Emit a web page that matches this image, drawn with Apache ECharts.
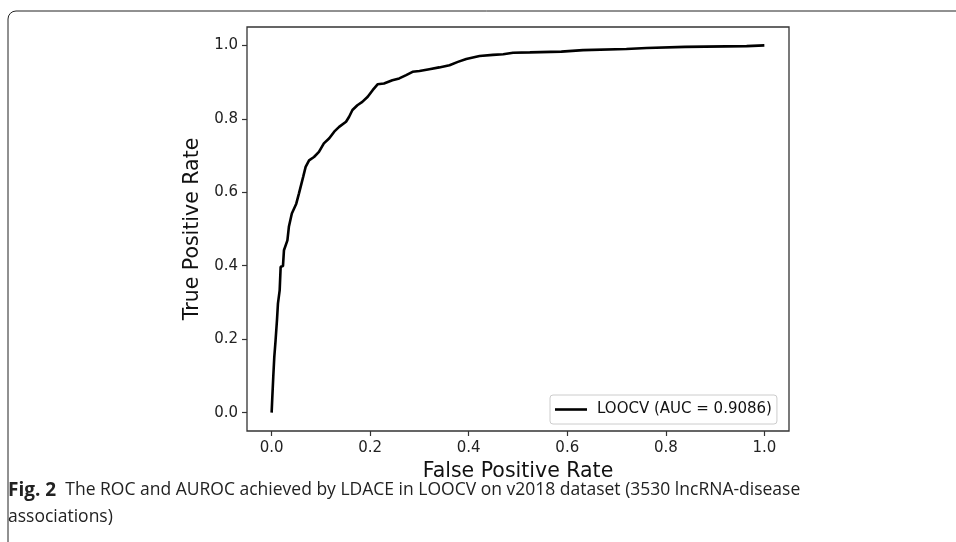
<!DOCTYPE html>
<html>
<head>
<meta charset="utf-8">
<script src="https://cdn.jsdelivr.net/npm/echarts@6/dist/echarts.min.js"></script>
<style>html,body{margin:0;padding:0;background:#fff;}#c{width:956px;height:542px;}</style>
</head>
<body>
<div id="c"></div>
<script>
const fpr = [0,0.0014,0.0033,0.0054,0.008,0.0108,0.0128,0.0163,0.0183,0.023,0.025,0.032,0.035,0.041,0.050,0.0555,0.064,0.069,0.076,0.086,0.096,0.106,0.117,0.127,0.137,0.151,0.157,0.164,0.174,0.184,0.195,0.205,0.215,0.228,0.245,0.259,0.273,0.286,0.300,0.320,0.340,0.361,0.378,0.395,0.422,0.449,0.470,0.490,0.524,0.527,0.588,0.591,0.632,0.635,0.720,0.723,0.761,0.764,0.839,0.842,0.964,0.967,1.0];
const tpr = [0,0.043,0.097,0.152,0.197,0.251,0.297,0.333,0.397,0.399,0.442,0.469,0.506,0.542,0.569,0.597,0.642,0.669,0.687,0.696,0.710,0.733,0.747,0.765,0.778,0.792,0.805,0.824,0.837,0.846,0.860,0.878,0.894,0.896,0.905,0.910,0.919,0.928,0.930,0.935,0.940,0.946,0.955,0.963,0.971,0.974,0.976,0.980,0.981,0.983,0.983,0.987,0.987,0.990,0.990,0.993,0.993,0.996,0.996,0.998,0.998,1.0,1.0];
const tickValues = [0,0.2,0.4,0.6,0.8,1.0];
const seriesName = 'LOOCV (AUC = 0.9086)';
const xTitle = 'False Positive Rate';
const yTitle = 'True Positive Rate';
const captionBold = 'Fig. 2';
const captionLine1 = 'The ROC and AUROC achieved by LDACE in LOOCV on v2018 dataset (3530 lncRNA-disease';
const captionLine2 = 'associations)';

const chart = echarts.init(document.getElementById('c'), null, {renderer: 'canvas'});
const axisFont = 'DejaVu Sans';
const capFont = '"Open Sans", sans-serif';
chart.setOption({
  animation: false,
  backgroundColor: '#fff',
  grid: {left: 247, right: 167, top: 27, bottom: 111, show: true, borderColor: '#333', borderWidth: 1.3, backgroundColor: 'transparent'},
  xAxis: {
    type: 'value', min: -0.05, max: 1.05,
    name: xTitle, nameLocation: 'middle', nameGap: 24,
    nameTextStyle: {fontFamily: axisFont, fontSize: 20.5, color: '#111'},
    axisLine: {show: false, onZero: false},
    axisTick: {show: true, inside: false, length: 5, customValues: tickValues, lineStyle: {color: '#333', width: 1.2}},
    axisLabel: {customValues: tickValues, formatter: v => v.toFixed(1), fontFamily: axisFont, fontSize: 15, color: '#222', margin: 10},
    splitLine: {show: false}
  },
  yAxis: {
    type: 'value', min: -0.05, max: 1.05,
    name: yTitle, nameLocation: 'middle', nameGap: 44,
    nameTextStyle: {fontFamily: axisFont, fontSize: 20.5, color: '#111'},
    axisLine: {show: false, onZero: false},
    axisTick: {show: true, inside: false, length: 5, customValues: tickValues, lineStyle: {color: '#333', width: 1.2}},
    axisLabel: {customValues: tickValues, formatter: v => v.toFixed(1), fontFamily: axisFont, fontSize: 15, color: '#222', margin: 9},
    splitLine: {show: false}
  },
  legend: {
    left: 550, top: 395, orient: 'vertical',
    data: [{name: seriesName, icon: 'rect'}],
    itemWidth: 32, itemHeight: 2.6, itemGap: 5,
    padding: [7, 5, 7, 5],
    borderColor: '#ccc', borderWidth: 1, borderRadius: 3,
    itemStyle: {color: '#000'},
    textStyle: {fontFamily: axisFont, fontSize: 15, color: '#111', padding: [0, 0, 0, 5]}
  },
  series: [{
    name: seriesName, type: 'line', symbol: 'none', showSymbol: false,
    data: fpr.map((x, i) => [x, tpr[i]]),
    lineStyle: {color: '#000', width: 2.6},
    itemStyle: {color: '#000'}
  }],
  graphic: [
    {type: 'rect', shape: {x: 8, y: 11, width: 1000, height: 600, r: 8}, style: {fill: 'none', stroke: '#222', lineWidth: 1}, silent: true},
    {type: 'text', left: 8, top: 481, style: {
      text: '{b|' + captionBold + '}  ' + captionLine1,
      font: '17.5px ' + capFont, fill: '#222',
      rich: {b: {fontWeight: 'bold', fontFamily: capFont, fontSize: 19, fill: '#222'}}
    }},
    {type: 'text', left: 8, top: 508, style: {text: captionLine2, font: '17.5px ' + capFont, fill: '#222'}}
  ]
});
</script>
</body>
</html>
